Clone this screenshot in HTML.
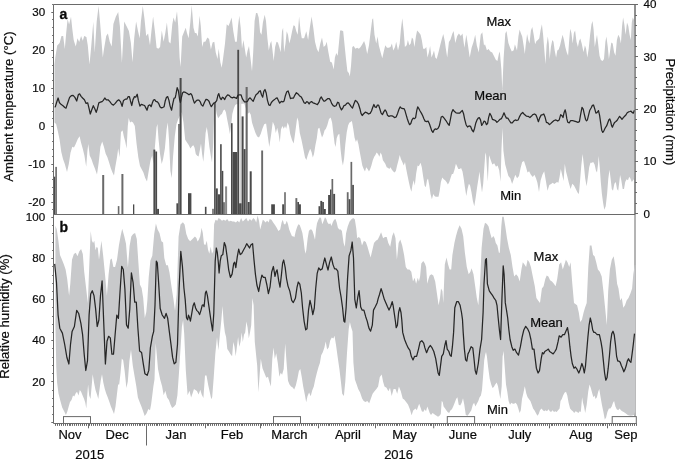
<!DOCTYPE html>
<html><head><meta charset="utf-8"><style>
html,body{margin:0;padding:0;background:#fff;width:675px;height:460px;overflow:hidden}
svg{display:block;will-change:transform}
text{font-family:"Liberation Sans",sans-serif}
</style></head><body>
<svg width="675" height="460" viewBox="0 0 675 460"><rect width="675" height="460" fill="#fff"/><line x1="635.0" y1="4.5" x2="635.0" y2="423.5" stroke="#6a6a6a" stroke-width="1"/><polygon points="54.5,64.6 55.3,57.4 57.2,45.5 59.6,43 61.5,35.9 63.2,35.9 64.8,49 66.2,33 67.6,19 69.1,24.5 71,16.8 72.3,29 73.7,40 74.6,43 75.8,46.6 77.5,38.3 79.2,41.9 81.1,35.9 82.8,40.7 84.2,35.9 86.4,37 87.8,45.5 89.5,64.6 91.1,47.8 93.3,21.7 94.7,52.6 96.7,21.5 98.6,6 100.2,23.9 102.8,57.5 103.8,50.2 106.2,35.9 107.9,33.5 109.8,41.9 111.7,46.6 113.4,23.9 115.8,16.7 118.2,12 119.9,26.3 121.9,63 124.2,21.5 126.6,26.3 128.9,31.1 130.9,43 132.5,62.2 134.2,38.3 136.1,21.5 138,31.1 139.7,38.3 140.9,21.5 142.8,6 144.5,19.1 146.2,35.9 148.1,33.5 150,45.2 151.4,31.3 153.1,16.5 154.9,31.3 156.6,47.8 158.3,48.7 160.1,47 161.8,30.4 163.6,41.7 165.3,33 166.9,22.6 168.8,41.7 170.5,43.5 172.3,24.3 173.5,17.4 175.2,22.6 177,11.3 178.2,26.1 179.6,57.4 180.6,67 182.2,36.5 183.9,32.2 185.7,27.8 187,33 188.6,38.3 190.3,22.6 191.7,5.2 193.5,27.8 194.9,33 196.3,33 197.8,36.5 199.6,15.7 200.8,26.1 202.2,47 203.6,41.7 205.3,41.7 207.4,37.4 209.1,39.1 210.9,49.6 212.6,42.6 214.3,41.7 215.7,52.2 217.5,59.1 218.7,48.7 220.4,62.6 221.7,67.8 223,59.1 225,43.5 226.7,24.3 228.5,26.1 229.9,22.6 231.6,17.4 233.3,31.3 235.1,41.7 236.8,41.7 238,26.1 239.3,15.7 240.7,27.8 242,48.7 243.4,40 244.8,48.7 246.2,57.4 247.6,50.4 249,46.1 250.4,57.4 252,71.3 253.2,52.2 254.6,20.9 256,13 257.3,13 258.7,17.4 260.1,32.2 261.5,34.8 262.9,22.6 264.7,14.8 266,20.9 267.4,38.3 268.8,50.4 270.2,43.5 271.3,40.9 272.3,48.7 273.7,60.9 275.1,47 276.5,41.7 277.9,42.6 279.3,47 280.7,52.2 282,31.3 283.1,27.8 284.1,52.2 285.5,43.5 286.7,31.3 288,34.8 289.3,43.5 290.7,38.3 292.1,31.3 293.5,25.2 294.9,26.1 296.3,31.3 297.7,34.8 299.1,16.5 300.6,31.3 301.8,38.3 304.1,38.3 306.3,31.3 308.1,40 309.8,27.8 311.6,16.5 313.3,27.8 315,41.7 316.8,48.7 318.5,52.2 320.3,43.5 322,37.4 323.7,47 325.5,45.2 326.7,41.7 328.4,52.2 330.2,61.7 331.9,62.6 333.7,69.6 334.9,57.4 336.3,53 337.7,55.7 338.9,43.5 340.1,30.4 341.8,30.4 343.2,31.3 344.6,45.2 346,59.1 347.4,71.3 348.8,73 349.8,76.5 351,66.1 352.3,47 353.7,46.1 355.4,48.7 357.1,47.8 358.9,48.7 360.6,47 362.3,44.3 364.1,40.9 365.5,45.2 367.2,53.9 369,45.2 370.7,31.3 372.2,19.5 373.1,18.3 374.5,34.8 376.2,43.5 377.6,36.5 378.8,45.2 380.6,52.2 382.3,58.3 384,50.4 385.3,45.2 387,47.8 388.7,47.8 390.5,47 391.9,43.5 393.3,50.4 395,47 396.2,41.7 398,50.4 399.7,43.5 400.9,29.6 402.3,18.3 403.7,31.3 404.9,47 406.7,45.2 407.9,40 409.3,45.2 410.7,43.5 411.9,37.4 413.1,39.1 414.5,47 415.9,36.5 417.1,30.4 418.8,32.2 420.6,34.8 421.8,40 423.2,48.7 424.9,48.7 426.3,47 427.5,57.4 428.9,52.2 430.1,46.1 431.5,57.4 432.9,53.9 434,50.4 435.3,57.4 436.7,59.1 438.5,52.2 440.2,45.2 442,38.3 443.3,33.9 444.9,41.7 445.7,47.8 447.2,57.4 448.9,41.9 450.5,39.5 452.4,33.5 453.6,31.1 455.3,43 457.2,35.9 458.9,33.5 460.8,35.9 462.5,33.5 464.4,47.8 466.3,34.7 468,45.5 469.7,57.4 471.6,47.8 473.5,41.9 475.2,34.7 476.8,45.5 478.8,52.6 480.7,34.7 482.3,32.3 484,45.5 485,44.3 486.9,50.2 488.6,49 490.3,51.4 492.2,52.6 494.1,56.2 495.8,59.8 497.4,61 498.9,53.8 499.8,51.4 501.4,69.4 502.3,90 503.6,58.5 505.3,33.5 506.5,31.1 508.4,43 510.1,47.8 511.8,51.4 513.7,50.2 514.9,44.3 517,50.4 518.4,36.5 519.6,29.6 520.8,33 522.2,36.5 523.6,45.2 524.8,53.9 525.7,45.2 527.1,33.9 528.3,40 529.5,43.5 530.9,30.4 532.3,27 533.7,34.8 535.1,44.3 536.5,40.9 537.9,40 539.3,38.3 540.5,30.4 541.9,24.3 543.1,34.8 544.5,52.2 545.5,64.3 546.6,45.2 547.8,36.5 548.8,43.5 549.7,59.1 550.9,47 552.3,40 553.5,41.7 554.7,50.4 556.1,57.4 557.3,50.4 558.7,49.6 560.1,45.2 561.3,40 562.6,34.8 564,40 565.3,47 566.7,52.2 568.1,55.7 569.2,40 570.2,28.7 571.4,33 572.7,43.5 573.9,33 575.1,30.4 576.5,41.7 577.9,47 579.1,40.9 580.3,38.5 581.7,43.5 583.5,52.2 584.9,45.2 586.1,48.7 587.3,57.4 588.7,48.7 590.1,34.8 591.5,24.3 592.5,20.9 593.6,29.6 594.8,47 596,40 597,34.8 598.3,45.2 599.5,55.7 600.9,60 602.6,60.9 604,59.1 605.4,41.7 606.4,36.5 607.8,47 608.9,59.1 609.9,52.2 611.3,42.6 612.7,43.5 614.1,52.2 615.5,55.7 616.9,40 618.3,34.8 619.7,37.4 620.9,43.5 622.1,26.1 623.1,17.4 624.3,24.3 625.6,34.8 627,22.6 628.3,26.1 629.6,34.8 630.8,40 631.8,22.6 632.7,17.4 633.6,19.1 634.5,21.5 634.8,21.5 634.8,178.2 634.5,178.2 633.2,180.2 631.8,182 630.4,178.5 629.2,176.7 628,180.2 626.6,179.3 625.2,182 624,188.9 622.7,188.9 621.3,180.2 620.1,175 619.3,182 618.2,190.7 617,188.9 615.8,182 614.4,183.7 613,190.7 611.8,188.9 610.6,178.5 609.5,169.8 608.3,178.5 607.1,194.1 605.7,206.3 604.3,209.8 603.1,202.8 601.9,194.1 600.8,182 599.8,168 598.7,155.9 598,164.6 597,172.4 596,170.7 594.6,164.6 593.2,162 591.8,162.8 590.4,162.8 589.2,167.2 588,176.7 586.6,186.3 585.2,178.5 584,166.3 582.6,154.1 581.3,165.4 580.1,180.2 578.9,194.1 577.5,192.4 575.8,188.9 574,185.4 572.3,183.7 570.6,188.9 568.8,182.8 567.4,176.7 566,171.5 564.8,163.7 563.6,181.1 562.2,175 560.8,168.9 559.6,176.7 558.4,182.8 557,182 554.3,184 552.7,182.8 551.1,184 549.3,185.1 547.5,190.8 545.8,180.5 544.2,171.3 542.4,174.8 540.6,180.5 539,192 537.4,182.8 536,178.2 534.4,174.8 532.8,177.1 530.9,174.8 529.1,171.3 527.5,172.5 525.9,166.7 524,161 522.2,162.1 520.6,167.9 519,175.9 517.1,178.2 515.3,174.8 513.7,179.4 512.1,184 510.3,178.2 508.4,175.9 506.8,170.2 505.2,164.4 503.4,150.7 502.5,128 501.5,148.4 500.6,181.7 499.2,170.2 497.6,165.6 496,166.7 494.2,163.3 492.3,164.4 490.7,159.9 489.1,155.3 487.8,181.7 486.1,155.3 485.4,152.4 484.4,166.3 483.2,183.7 482,192.4 480.6,182 479.5,171.5 478.5,178.5 477.1,187.2 475.7,197.6 474.3,206.3 472.9,201.1 471.5,192.4 470.1,185.4 468.9,183.7 467.5,188.9 466.3,195.9 464.9,187.2 463.7,178.5 462.5,171.5 461.1,168 459.7,168.9 458.3,168.9 457.1,166.3 455.9,163.7 454.5,169.8 453.1,174.1 451.9,174.1 450.7,177.6 449.3,182 447.9,184.6 446.5,182 445.1,180.2 443.7,179.3 442.3,177.6 440.9,182 439.7,190.7 438.5,196.7 437.1,196.7 435.7,196.7 434.5,195.9 433.3,194.1 431.9,199.3 430.5,194.1 429.3,185.4 428,178.5 427,180.2 425.8,187.2 424.6,185.4 423.2,176.7 421.8,167.2 420.6,162.8 418.8,166.3 417.6,165.4 416.2,173.3 414.8,185.4 413.6,180.2 412.4,185.4 411.4,191.8 410.2,188 409,182.8 407.6,175.9 406.2,168.9 405,162 403.7,165.4 402.3,162 401,159.3 399.7,155 398.5,160.2 397.1,165.4 395.9,170.7 394.7,172.4 393.3,171.5 391.9,169.8 390.5,167.2 389.3,168.9 388.1,168 386.7,167.2 385.3,163.7 384.1,162 382.9,160.2 381.8,155 380.6,152.4 379.4,156.7 378,154.1 376.6,152.4 375.4,155 374.2,156.7 372.8,160.2 371.4,165.4 370.2,168.9 369,171.5 367.6,168.9 366.2,167.2 365,171.5 363.7,168.9 362.3,165.4 361,158.5 359.7,151.5 358.5,144.6 357.1,139.3 355.9,142 354.5,137.6 353.3,128.9 351.9,121.1 350.5,122 349.3,122.8 348.1,125.4 346.7,132.4 345.3,144.6 344.1,158.5 342.9,165.4 341.8,160.2 340.6,149.8 339.4,134.1 338,134.8 336.7,138.3 335.6,147 334.6,143.5 333.3,133 332.1,122.6 330.7,117.4 329,119.1 327.3,125.2 325.9,128.7 324.5,130.4 323.3,134.8 322,137.4 320.7,133 319.4,127.8 318,128.7 316.8,138.3 315.4,145.2 314,153.9 312.8,157.4 311.6,152.2 310.2,148.7 308.8,152.2 307.6,155.7 306.4,160 305,157.4 303.3,148.7 301.5,140 299.8,133 298.4,120.9 297.2,117.4 295.4,131.3 293.7,143.5 292,140 290.2,133.9 289,126.1 287.6,122.6 286.2,128.7 285,126.1 283.8,128.7 282.4,126.1 281,129.6 279.8,142.6 278.6,133.9 277.2,127.8 275.8,133 274.6,126.1 272.8,121.7 271.1,134.8 269.3,147 267.6,134.8 266.1,123.4 264.2,124.3 262.4,128.7 260.7,133.9 259,137.4 257.2,136.5 255.5,133 253.7,127.8 252,122.6 250.8,114.8 249.4,112.2 247.7,113.9 244.2,103.5 240,104 236.3,104.3 235.1,105.2 233.7,108.7 232.3,113.9 231.1,126.1 229.9,133.9 228.5,126.1 227.1,119.1 225.9,112.2 224.7,109.6 223.3,110.4 221.9,113.9 220.7,114.8 219.5,116.5 218.1,118.3 216.7,113.9 215.5,107 214.3,110.4 213.2,143.5 212,162.6 210.8,155.7 209.4,147 208,134.8 206.8,127 205.6,133 204.5,148.7 203.3,161.7 202.1,153.9 201,143.5 199.8,150.4 198.6,156.5 197.2,155.7 195.8,153.9 194.6,147.8 193.4,145.2 192.2,146.1 190.4,148.5 188.7,145 187,142.4 185.2,139.8 183.5,122.4 181.7,112 180,115.4 178.3,118.9 176.5,124.1 174.8,136.3 173,157.2 171.8,178 170.4,171.1 169,139.8 167.8,122.4 166.6,129.3 164.9,148.5 163.1,158.9 161.7,164.1 160,153.7 158.6,139.8 157.4,124.1 156.5,127.6 154.8,148.5 153.4,164.1 152.2,155.4 150.4,160.7 148.7,171.1 147,181.5 145.2,178 143.5,172.8 141.7,169.3 140,165.9 138.3,157.2 136.5,143.3 134.8,125.9 133,122.4 131.5,121.5 130.1,122.4 128.7,118 127.8,125.9 126.6,148.5 125.2,141.5 123.8,136.3 122.6,130.2 121.9,131.5 121,131.5 119.6,157.2 118.2,148.5 117,157.2 115.2,167.6 114,175.4 112.6,172.8 110.9,168.5 109.1,162.4 107.4,157.2 105.7,153.7 103.9,146.7 102.2,141.5 100.4,146.7 98.7,162.4 97,174.6 94.9,168.5 93.1,164.1 91.4,158.9 89.7,155.4 88.3,144.1 87.4,151.1 86.2,166.7 84.4,155.4 82.7,148.5 81,142.4 79.6,136.3 77.8,138.9 75.7,144.1 74,147.6 72.3,146.7 70.5,152.8 68.8,164.1 67,172 64.8,164.1 63,158.9 61.3,152 59.6,139.8 57.8,131.1 56.1,124.1 54.5,122.4 54.5,122.4" fill="#c8c9cb"/><polygon points="55.4,225.8 56.7,229 58.4,240.7 60,255.1 62,259.8 63.9,264.6 65.6,269.4 67.2,279 69.1,295.7 70.3,283.8 72,259.8 73.9,253.9 75.8,252.7 77.5,256.3 79.2,251.5 81.1,249.1 82.8,253.9 84.2,271.8 85.9,286.2 87.8,302.9 89.5,259.8 90.7,231.1 91.9,240.7 93.1,243.1 94.3,240.7 95.5,250.3 96.7,246.7 97.8,247.9 99,259.8 100.2,250.3 101.4,240.7 103.1,255.1 105,274.2 106.9,295.7 108.6,274.2 110.3,259.8 111.7,258.6 113.4,267 115.1,267 117,259.8 118.9,245.5 120.6,235.9 122.2,228.7 124.2,235.9 126,243.7 127.9,267.6 129.6,246.1 131.3,236.5 133.2,234.1 135.1,232.9 136.8,238.9 138.4,262.8 139.9,284.4 141.6,288 143.2,298 144.8,318 146.3,312 147.4,300 148.7,277.2 150.4,260.5 152.3,255.7 154.2,234.1 155.9,223.4 157.6,229.4 159.5,232.9 161.4,241.3 163.1,242.5 164.3,258.1 166.2,265.2 167.9,265.2 169.5,272.4 171.5,286.8 173.4,298.7 175,310.7 176.7,294 178.6,236.5 180.5,224.6 182.9,222.2 184.6,224.6 186.3,234.1 188.2,238.9 190.1,241.3 192.5,238.9 194.9,236.5 196.4,238.1 197.6,241.6 198.8,239.8 200.2,236.3 201.6,227.7 202.8,232.9 204,244.2 205.4,245 206.8,240.7 208,249.4 209.3,253.7 210.7,246.8 212,253.7 213.3,251.1 214.1,224.2 215.5,219.8 217.3,220.7 218.5,218.1 220.2,219 222,220.7 223.7,219.8 225.4,220.7 227.2,219 228.9,221.6 230.7,220.7 232.4,221.6 234.1,221.6 235.9,222.4 237.6,220.7 239.3,222.4 241.1,218.1 242.8,221.6 244.6,219.8 246.3,218.1 248,221.6 249.8,219 251.5,220.7 253.3,218.1 255,219.8 256.2,222.4 257.6,215.5 259,220.7 260.2,229.4 261.4,225 262.8,219.8 264.2,220.7 265.4,222.4 267.2,220.7 268.6,222.4 269.7,219 271.5,219.8 273.2,222.4 275,225 276.7,227.7 278.4,231.1 280.2,229.4 281.6,222.4 282.8,219.8 284,224.2 285.4,224.2 286.8,220.7 288,224.2 289.2,229.4 290.6,232.9 292,236.3 293.2,236.3 294.4,237.2 295.8,231.1 297.2,226.8 298.4,224.2 299.7,225 301,228.5 302.4,232.9 303.7,241.6 304.5,248.5 305.4,253.7 306.3,250.3 307.7,238.1 308.9,231.1 310.1,229.4 311.5,229.4 312.5,231.1 313.6,234.6 315,239.8 316,229.4 317,223.3 318.4,219.8 319.8,217.2 321,218.1 322.3,224.2 323.7,220.7 325,217.2 326.3,219 327.5,222.4 328.9,224.2 330.3,223.3 331.5,225.9 332.7,222.4 334.1,219.8 335.5,219 336.7,222.4 337.9,227.7 339.3,229.4 340.7,229.4 341.9,231.1 343.6,243.1 344.8,246.7 346,233.5 347.7,226.4 349.6,221.6 351.5,219.2 353.2,218 354.8,219.2 356.3,228.7 357.2,238.3 358.7,237.1 360.3,238.3 362,245.5 363.9,240.7 365.8,241.9 367.5,246.7 369.2,252.7 370.6,257.5 372.3,250.3 374,243.1 375.9,240.7 377.8,239.5 379.5,235.9 381.1,232.3 383.1,238.3 385,237.1 386.7,237.1 388.3,243.1 390.2,246.7 392.2,235.9 393.8,232.3 395.5,238.3 396.9,259.8 398.6,243.1 400.3,239.5 402.2,245.5 404.1,255.1 405.8,267 407.5,269.4 409.4,269.4 411.3,271.8 413,281.4 414.6,277.8 416.1,283.8 417.8,277.8 418.9,281.4 420.1,276.6 421.3,263.4 423.3,261 424.9,263.4 426.1,267 427.3,283.8 428.5,279 429.7,275.4 431.4,274.2 433.3,275.4 435.2,281.4 436.9,293.3 438.6,305.3 440,298.1 441,288.6 442.4,291 443.3,302.9 444.8,264.6 446.5,257.5 448.1,264.6 449.6,269.4 451.2,269.4 452.4,255.1 454.4,243.1 456,235.9 457.7,229.9 459.6,225.2 461.5,228.7 463.2,235.9 464.9,252.7 466.8,267 468.7,274.2 470.4,271.8 471.6,268.2 473.5,274.2 475.2,286.2 476.8,298.1 478.3,305.3 480,283.8 481.6,247.9 483.5,228.7 485,222.8 486.9,224 488.6,226.4 490.3,233.5 491.7,238.3 493.4,235.9 494.6,238.3 495.8,243.1 497.4,245.5 498.9,252.7 499.8,252.7 501.3,226.4 502.2,216.8 503.7,216.8 505.3,226.4 507,238.3 508.9,247.9 510.8,255.1 512.5,267 514.2,276.6 516.1,274.2 518,276.6 519.7,281.4 521.4,269.4 522.8,262.2 524.5,264.6 526.1,267 527.6,259.8 529.3,262.2 530.9,267 532.8,276.6 534.8,286.2 536.4,298.1 538.1,300.5 540,302.9 541.9,288.6 543.6,286.2 545.3,279 546.7,275.4 548.4,276.6 550.1,280.2 552,281.4 553.9,283.8 555.6,286.2 557.2,279 559.2,264.6 561.1,262.2 562.8,269.4 564.4,264.6 565.9,259.8 567.5,262.2 569.2,267 570.6,262.2 572.3,283.8 574,302.9 575.4,304.1 577.1,305.3 578.8,312.5 580.2,322 581.9,319.7 583.6,312.5 585,307.7 586.7,302.9 588.3,267 589.8,245.5 591.5,245.5 593.1,255.1 594.6,256.3 596.2,262.2 597.9,269.4 599.8,271.8 601.7,276.6 603.4,290.9 605.1,307.7 606.8,325 608.2,290.9 609.9,269.4 611.8,259.8 613.7,256.3 615.4,267 617.1,283.8 618.5,288.6 620.2,300.5 621.8,298.1 623.3,307.7 625,305.3 626.6,300.5 628.5,298.1 630.5,293.3 632.1,288.6 633.3,274.2 634.8,265 635.3,265 635.3,412.5 634.8,412.5 633.9,414.9 632.2,415.4 630.7,415.8 629.2,415.4 627.8,414.9 626.5,413.9 625.2,413 623.7,412.1 622.2,411.2 620.9,410.2 619.6,408.4 618.2,410.2 616.7,409.3 615.4,406.5 614.1,401 613,402.8 611.7,406.5 610.4,408.4 608.9,408.4 607.4,412.1 606.1,417.6 604.8,419.5 603.4,412.1 601.9,404.7 600.6,397.3 599.3,389 598.2,391.8 596.9,397.3 595.6,399.1 594.5,395.5 593.4,397.3 592.3,393.6 590.8,388.1 589.5,384.4 588.2,391.8 586.7,404.7 585.2,413 584,406.5 583,402.8 582.1,397.3 580.8,412.1 579.7,411.2 578.4,413 577.1,412.1 575.6,411.2 574.2,413 572.9,411.2 571.6,410.2 570.1,408.4 568.6,402.8 567.3,395.5 566,391.8 564.5,392.7 563.1,395.5 561.8,399.1 560.5,401 559.6,408.4 558.1,410.2 556.6,412.1 555.3,411.2 554,412.1 552.5,410.2 551.1,412.1 549.8,411.2 548.5,409.3 547,411.2 545.5,410.2 544.2,411.2 542.9,410.2 541.5,408.4 540,410.2 538.7,413.9 537.4,415.8 535.9,413 534.4,410.2 533.1,408.4 531.8,404.7 530.4,401 528.9,399.1 527.6,397.3 526.3,393.6 524.8,386.2 523.3,393.6 522,399.1 520.8,410.2 519.6,413 518.3,408.4 517.1,404.7 515.6,402.8 514.1,403.8 512.8,403.8 511.5,402.8 510,404.7 508.6,401 507.3,391.8 506,384.4 504.5,364 503.6,351.1 502.6,356.6 501.7,386.2 500.4,399.1 499.3,393.6 498,386.2 496.7,382.5 495.2,384.4 493.8,387.1 492.5,388.1 491.2,384.4 489.7,378.8 488.2,367.7 486.9,356.6 486,352 485.2,354.8 484.2,360.3 483.3,373.3 482,389.9 480.9,395.5 479.6,397.3 478.3,401 476.8,403.8 475.4,406.5 474.1,402.8 472.8,404.7 471.3,410.2 469.5,413 467.6,415.8 465.8,414.9 464.3,404.7 463,398.2 461.7,402.8 460.2,405.6 458.7,404.7 457.4,397.3 456.1,399.1 454.7,402.8 453.2,406.5 451.9,409.3 450.6,410.2 449.1,413 447.6,412.1 446.3,410.2 445.1,408.4 443.6,406.5 442.7,401.9 441.7,401 440.8,413.9 439.5,415.8 438,416.7 436.6,415.8 435.3,414.9 434,413.9 432.5,413 431,414.9 429.7,413 428.4,409.3 427.3,406.5 426,411.2 424.7,409.3 423.2,412.1 421.8,411.2 420.5,407.5 419.2,403.8 418.1,406.5 416.8,410.2 415.5,408.4 413.2,410.5 411.6,415.3 409.9,409.3 408,404.5 406.1,402.1 404.4,399.7 402.7,398.5 400.8,391.3 398.9,386.6 397.2,393.7 395.5,388.9 393.6,388.9 391.7,396.1 390,387.8 388.4,391.3 386.5,387.8 384.5,386.6 383.1,381.8 381.7,374.6 379.8,377 378.1,386.6 376.4,388.9 374.5,391.3 372.6,393.7 370.9,398.5 369.2,403.3 367.3,400.9 365.4,402.1 363.7,400.9 362.1,398.5 360.1,392.5 358.2,389 356.6,384.2 354.9,379.4 353.4,362.6 352.5,331.5 351,326.7 349.9,322 348.7,329.1 347,353.1 345.3,381.8 343.9,396.1 342.2,393.7 340.8,380.7 339.4,368.9 337.7,357.2 336.1,345.4 334.5,335.7 333.4,338.6 331.8,337.6 330.2,340.5 328.7,347.4 327.1,349.4 325.7,341.5 324.4,347.4 322.8,352.3 321.2,355.2 319.9,363.1 318.5,367 316.9,372.8 315.4,378.7 313.8,386.5 312.2,390.5 310.7,396.3 309.1,392.4 307.5,396.3 306.2,402.2 304.8,394.4 303.2,386.5 301.7,376.8 300.3,368.9 298.9,370.9 297.4,378.7 295.8,385.6 294.2,389.5 292.7,387.5 291.1,386.5 289.5,384.6 288,380.7 286.6,363.1 285.2,343.5 283.7,368.9 282.1,374.8 280.7,372.8 279.4,376.8 277.8,363.1 276.2,353.3 274.8,359.1 273.5,347.4 272.3,359.1 270.9,386.5 269.6,382.6 268,376.8 266.3,377.8 264.4,373 262.5,368.2 260.8,358.7 259.6,375.4 258.4,392.2 257.2,365.8 256,353.9 254.8,341.9 253.6,305 252.4,298 251.2,325.2 250,332.4 248.8,338.3 247.6,327.6 246.4,321.6 245.2,332.4 244,334.7 242.8,341.9 241.7,332.4 240.5,341.9 239.3,346.7 238.1,337.1 236.9,346.7 235.7,356.3 234.5,346.7 233.3,341.9 232.1,356.3 230.4,353.9 229,351.5 227.3,349.1 226.1,337.1 224.9,332.4 223.7,322.8 222.5,306 221.3,320.4 220.1,332.4 218.4,350.3 217,337.1 215.3,353.9 213.7,377.8 212.2,397 211.3,399.3 209.8,392.2 208.2,385 206.5,375.4 205,375.4 203.4,398.1 201.7,394.6 200.3,389.8 198.6,394.6 196.9,391 195,389.8 194,389 192.7,393.1 191.1,397.6 189.5,390.8 187.6,395.3 185.8,370.2 184.2,333.7 183.1,320 181.9,326.8 180.3,352 179,372.5 177.4,395.3 175.8,404.5 173.9,406.8 172.1,407.9 170.5,404.5 168.9,399.9 167.1,397.6 165.3,390.8 163.7,395.3 162.1,386.2 160.2,379.4 158,369.1 156.8,355 155.7,343 154.5,379.4 153.4,386.2 152.3,395.3 151.1,404.5 150,410.2 148.4,409 146.5,413.6 144.7,415.9 143.1,411.3 141.5,406.8 139.7,402.2 137.9,397.6 136.3,386.2 134.7,377.1 132.8,365.7 131,349.7 129.4,361.1 127.8,381.6 126.4,388 124.7,371.4 123.2,360.3 121.8,358.5 120.5,373.3 119.2,384.4 118.1,384.4 116.8,395.5 115.5,406.5 114,413.9 112.5,410.2 110.9,406.5 109.4,401.9 107.7,397.3 106.2,393.6 104.8,389 103.3,382.5 102,374.2 100.7,380.7 99.2,391.8 98.3,399.1 97,394.5 95.5,389.9 94,382.5 92.7,374.2 91.8,384.4 90.5,399.1 89.2,395.5 88.1,384.4 87.2,395.5 86.3,408.4 85.3,402.8 84.1,399.1 82.6,395.5 81.1,391.8 79.8,389.9 78.5,395.5 77,391.8 75.6,393.6 74.3,396.4 73,395.5 71.5,400.1 70,401.9 68.7,406.5 67.4,411.2 65.9,414.9 64.5,412.1 62.2,407.5 60.4,401 58.5,393.6 57.1,382.5 56.3,368 55.4,326 55.4,326" fill="#c8c9cb"/><rect x="53.3" y="176.7" width="2" height="37.8" fill="#4a4a4a"/><rect x="55.3" y="166.9" width="1.6" height="47.6" fill="#6a6a6a"/><rect x="102.2" y="175" width="2" height="39.5" fill="#6a6a6a"/><rect x="117.8" y="206.1" width="1.6" height="8.4" fill="#6a6a6a"/><rect x="121.4" y="174" width="2" height="40.5" fill="#6a6a6a"/><rect x="133" y="204.4" width="1.3" height="10.1" fill="#4a4a4a"/><rect x="153.4" y="149.6" width="1.9" height="64.9" fill="#4a4a4a"/><rect x="155.3" y="151.5" width="1.8" height="63" fill="#4a4a4a"/><rect x="157.1" y="208.9" width="1.9" height="5.6" fill="#4a4a4a"/><rect x="176.4" y="203.3" width="1.9" height="11.2" fill="#4a4a4a"/><rect x="178.3" y="124" width="1.3" height="90.5" fill="#4a4a4a"/><rect x="179.6" y="78" width="2" height="136.5" fill="#4a4a4a"/><rect x="188" y="193.2" width="3.4" height="21.3" fill="#4a4a4a"/><rect x="204.9" y="206.8" width="1.6" height="7.7" fill="#4a4a4a"/><rect x="212.2" y="208.8" width="1.6" height="5.7" fill="#6a6a6a"/><rect x="214.1" y="102.5" width="1.6" height="112" fill="#4a4a4a"/><rect x="215.8" y="188.4" width="2" height="26.1" fill="#4a4a4a"/><rect x="217.8" y="194.3" width="2.3" height="20.2" fill="#4a4a4a"/><rect x="220.1" y="144.2" width="1.6" height="70.3" fill="#4a4a4a"/><rect x="221.7" y="170.9" width="1.6" height="43.6" fill="#4a4a4a"/><rect x="223.3" y="202.2" width="1.4" height="12.3" fill="#4a4a4a"/><rect x="225.1" y="186.4" width="2" height="28.1" fill="#8a8a8a"/><rect x="231" y="123.2" width="1.6" height="91.3" fill="#4a4a4a"/><rect x="232.6" y="152" width="4.7" height="62.5" fill="#4a4a4a"/><rect x="237.3" y="49.8" width="1.8" height="164.7" fill="#4a4a4a"/><rect x="239.1" y="94" width="2.2" height="120.5" fill="#d6d6d6"/><rect x="239.1" y="203.3" width="2.5" height="11.2" fill="#4a4a4a"/><rect x="241.6" y="116.4" width="2" height="98.1" fill="#4a4a4a"/><rect x="243.6" y="149.1" width="2" height="65.4" fill="#4a4a4a"/><rect x="245.6" y="87" width="2.1" height="127.5" fill="#6a6a6a"/><rect x="247.7" y="202" width="2" height="12.5" fill="#4a4a4a"/><rect x="249.7" y="171.3" width="2" height="43.2" fill="#4a4a4a"/><rect x="261.2" y="150.5" width="1.9" height="64" fill="#6a6a6a"/><rect x="271.2" y="204.3" width="3.7" height="10.2" fill="#4a4a4a"/><rect x="282.2" y="204.3" width="2" height="10.2" fill="#4a4a4a"/><rect x="284.2" y="192.2" width="1.6" height="22.3" fill="#6a6a6a"/><rect x="295.4" y="198.1" width="1.9" height="16.4" fill="#6a6a6a"/><rect x="297.3" y="202" width="1.7" height="12.5" fill="#4a4a4a"/><rect x="299" y="204.3" width="1.9" height="10.2" fill="#4a4a4a"/><rect x="318.5" y="206.2" width="1.8" height="8.3" fill="#4a4a4a"/><rect x="320.3" y="200.9" width="1.9" height="13.6" fill="#4a4a4a"/><rect x="322.2" y="202" width="1.7" height="12.5" fill="#4a4a4a"/><rect x="323.9" y="209" width="1.9" height="5.5" fill="#4a4a4a"/><rect x="328.1" y="195" width="1.9" height="19.5" fill="#4a4a4a"/><rect x="330" y="189.5" width="1.5" height="25" fill="#4a4a4a"/><rect x="331.5" y="179" width="1.7" height="35.5" fill="#6a6a6a"/><rect x="333.2" y="193.9" width="1.9" height="20.6" fill="#4a4a4a"/><rect x="346.8" y="192.2" width="1.8" height="22.3" fill="#6a6a6a"/><rect x="348.6" y="199.2" width="1.9" height="15.3" fill="#4a4a4a"/><rect x="350.5" y="161.9" width="1.7" height="52.6" fill="#6a6a6a"/><rect x="352.2" y="184.9" width="1.7" height="29.6" fill="#4a4a4a"/><polyline points="54.6,106.9 55.3,106.9 56.5,102.8 58.1,98 59.5,102.8 61.3,104.6 63,105.7 64.8,107.5 66,108.1 67.8,102.8 69.6,97.4 71.3,95.7 73.1,95.4 74.9,97.4 76.7,101 78.4,94.5 79.6,93.9 81.1,96.3 82.6,98 84.4,99.8 86.1,103.4 87.7,102.8 89.1,108.7 90.3,114 91.5,110.5 93.3,105.7 94.8,108.7 96.2,112.3 97.4,108.7 98.8,102.8 100.4,102.2 102.1,101.6 103.3,100.4 104.8,98 106.3,99.8 108.1,99.8 109.9,101.6 111.6,104 113.4,105.1 115.2,103.4 117,101 118.7,99.8 120.5,101.6 122.1,106.3 123.5,100.4 125.3,99.2 126.8,99.2 128.2,96.6 129.4,96.6 130.4,100.7 131.8,105.5 133,99.6 134.5,96.6 135.7,97.2 137.2,94.2 138.4,100.7 139.9,106.1 141.3,104.3 142.8,104.9 144.6,105.5 145.8,107.9 147,110.2 148.4,105.5 149.9,104.9 151.1,106.7 152.3,103.1 153.5,100.1 154.7,99.6 155.9,101.3 157.4,101.9 158.8,103.7 160,106.7 161.2,107.9 163,107.3 164.1,106.7 165.3,100.7 166.5,97.2 167.7,96.6 168.9,100.1 170.1,106.1 171.6,110.2 172.8,103.7 174,98.4 175.2,97.8 176,94.2 177.2,87.7 178.4,90.7 179.6,99.6 180.4,102.5 181.3,97.8 182.5,93 183.7,91.9 185.5,92.4 187.3,93.6 189,94.8 190.8,93.6 192,95.4 193.2,99.6 194.4,103.1 195.8,101.3 197.3,100.1 198.9,100.1 200.3,101.9 201.5,104.9 202.9,106.1 204.4,102.5 206,99.3 207.4,99.6 209,101.3 210.1,104.3 211.3,106.7 212.5,104.9 213.7,103.1 215.2,102.5 216.7,100.7 217.9,95.4 218.8,93.6 220,97.8 221.2,99.6 222.4,97.2 223.5,97.8 224.7,99.6 226.1,96.6 227.6,94.8 229.1,95.4 230.7,97.2 232.3,97.8 233.9,97.2 235.4,97.8 236.6,98.4 237.8,95.4 239.2,94.8 241,94.8 242.4,98.9 244.5,101.9 246.3,101.9 247.5,101.3 248.7,99 250.1,97.8 251.6,99.6 253.2,101.3 254.6,97.8 256,94.8 257.6,93.6 259.1,91.3 260.3,90.7 261.5,94.8 262.7,97.2 263.8,91.3 265,89.5 266.2,93 267.4,100.1 268.8,104.9 270,105.5 271.4,102.5 273,100.7 274.5,99.6 275.9,98.4 277.1,97.8 278.5,100.7 279.7,103.1 281.3,101.3 282.8,101.9 284.1,100.9 285.2,96.3 286.6,92.1 288.1,90.9 289.3,94.5 290.5,98.6 292.1,98 293.5,98 294.9,95.1 296.4,92.7 298,93.9 299.4,95.7 301.2,96.9 302.7,99.8 304.1,102.8 305.3,103.4 306.8,101.6 307.9,102.2 309.1,104 310.3,102.2 311.5,101.6 313,102.8 314.6,103.4 316,104 317.4,104.6 319,102.2 320.1,98.6 321.3,96.9 322.5,99.2 323.7,101 324.9,101 326.4,99.8 327.9,98.6 329.3,98.6 330.5,100.4 331.6,103.4 333.2,105.7 334.7,106.3 336.1,105.7 337.6,102.2 338.8,102.8 339.9,106.9 341.5,109.9 342.7,108.1 343.9,105.7 345.4,105.1 346.8,103.4 348.2,102.8 349.8,104.6 351,106.3 352.5,108.1 353.9,104 355.3,100.4 356.9,101.6 358.4,104 359.9,108.7 361,113.4 362.2,115.5 363.4,114 365.3,112.2 367,112.8 368.5,114 370.1,113.4 371.5,111 372.7,107.5 373.9,104.5 375,106.9 376.2,107.5 377.4,105.1 378.6,105.1 379.8,108.7 381,112.8 382.4,114.6 383.9,111.6 385.1,109.9 386.3,111.6 387.5,115.2 389,116.4 390.4,115.8 391.9,115.8 393.1,116.4 394.6,117.6 396.1,117 397.6,113.4 399,109.3 400.2,106.9 401.3,108.1 402.9,108.7 404.1,108.7 404.9,110.4 406.1,114.6 407.3,118.7 408.5,122.3 409.6,124.7 410.8,123.5 412,119.9 413.2,118.1 414.4,118.7 415.6,117.6 416.8,110.4 417.7,106.9 418.9,108.7 420.1,111 421.5,113.4 422.7,115.8 423.9,118.7 425.1,121.1 426.6,121.7 428.1,121.1 429.3,123.5 430.5,127 431.7,130.6 432.9,132.4 434.1,130 435.2,128.8 436.7,129.4 438.1,128.2 439.3,125.9 440.2,122 441.2,117 442.6,116.4 444.1,118.1 445.9,120.5 447.7,123.5 449.2,125.3 450.4,119.3 451.6,112.8 453,109.6 454.5,111.6 456,112.8 457.8,113.2 459.6,113.2 461.1,111.6 462.3,110.4 463.5,113.4 464.7,119.3 466.1,124.7 467.5,127 469,125.9 470.6,126.4 472,130 473.4,131.8 474.6,128.2 475.8,122.9 477,119.9 478.2,118.1 479.3,117.6 480.5,119.9 481.7,125.3 482.9,123.5 484.1,121.1 485.3,121.7 486.5,124.7 487.6,123.5 488.6,117.6 489.8,113.4 491.2,115.8 492.4,119.3 493.9,119.9 495.5,120.5 496.9,122.3 498.3,121.1 499.9,119.3 501.4,118.7 502.8,115.8 504,112.8 505.2,115.8 506.4,118.1 507.8,118.1 509.3,120.5 510.9,122.9 512.3,122.9 513.7,121.1 515.3,119.9 516.8,120.5 518.1,120 519.4,116.9 521,114 522.7,112.5 524.5,114.6 526.3,116.1 528.1,116.3 529.9,117.5 531.3,116.3 532.8,114.6 534.6,114 536,115.1 537.2,118.1 538.4,121.7 539.6,118.1 541.1,115.1 542.7,114.6 543.8,114 545,116.9 546.4,122.3 547.9,122.9 549.4,124.6 550.9,123.4 552.6,121.7 554.1,120.5 555.9,119.9 557.7,121.1 559.2,119.9 560.7,114.6 561.9,115.7 563,117.5 564.2,112.2 565.2,109.8 566,113.4 566.8,118.7 567.8,122.3 569.2,122.9 570.7,120.5 572.5,120.5 574.3,121.1 576.1,121.7 577.9,122.3 579.4,121.7 580.6,114.6 582,107.4 583.2,109.2 584.4,114.6 585.6,119.5 586.5,120.8 587.4,119.8 588.5,115.4 589.8,110.2 591.1,108 592.4,105.4 593.5,105 594.6,108.4 595.9,113.2 597.2,112.4 598.5,110.6 599.6,115.4 600.7,123.2 601.7,130.2 602.8,132.4 604,130.6 605.2,128 606.6,125.9 607.8,122.8 608.9,119.8 609.8,118.9 610.7,121.5 611.5,125.4 612.4,127.2 613.3,125 614.6,122.4 615.9,121.5 617.2,120.2 618.5,118 619.6,116.3 620.7,117.6 622,119.3 623.3,117.6 624.6,116.3 625.9,115 627.2,112.8 628.5,111.9 629.8,111.5 631,111.1 632,112.4 633.3,113.2 634.4,110.2" fill="none" stroke="#262626" stroke-width="1.25" stroke-linejoin="round"/><polyline points="54.7,263.9 56.5,282.6 58.1,315.1 59.8,328.2 62.4,333.1 64.7,344.5 66.9,357.5 68.9,364 70.5,344.5 72.1,331.4 74.4,326.5 76.7,310.3 78.7,313.5 80.9,323.3 82.6,334.7 84.2,354.2 85.8,370.5 87.5,360.7 89.1,315.1 90.7,294 92.3,290.7 94,295.6 95.6,308.6 97.2,326.5 98.9,320 100.5,295.6 102.1,280.9 103.7,321.7 105.4,364 107,341.2 108.6,336.3 110.3,337.9 111.9,354.2 113.5,354.2 115.1,334.7 116.8,315.1 118.4,318.4 120,292.3 121.7,266.3 123.3,269.5 124.9,289.1 126.5,324.9 128.2,328.2 129.8,308.6 131.4,272.8 133.1,282.6 134.7,302.1 136.3,302.1 137.9,328.2 139.6,351 141.6,352.5 143.3,363.9 144.9,373.7 147.2,375.3 148.8,370.4 150.4,347.6 152.4,336.2 153.7,331.3 155,305.2 156.3,261.2 157.3,262.8 158.6,282.4 160.2,308.5 162.2,315 164.5,318.3 166.1,313.4 167.7,318.3 169.3,331.3 171,344.3 172.6,357.4 174.2,363.9 175.9,362.3 177.5,344.3 179.1,288.9 180.8,251.4 182.4,266.1 183.9,287.8 185.2,299.6 186.5,317.8 187.6,319.8 188.5,315.2 189.4,317.2 190.4,321.1 191.7,313.9 193,306.1 194.3,302.8 195.6,308 196.9,310.6 198.3,311.9 199.6,314.6 200.9,310.6 202.2,305.4 203.2,304.8 204.1,306.7 205.4,293 206.3,291.1 207.4,295.6 208.7,304.8 210,313.9 211.3,323 212.6,330.8 213.8,313.1 215.2,261.1 216.3,248 217.3,252.4 218.4,263.3 219.1,273 220.2,261.1 221.3,255.7 222.8,254.6 224.3,242.6 225.6,245.9 227.1,256.7 228.7,269.8 230.4,277.4 232.1,274.1 233.7,263.3 234.7,262.2 235.8,267.6 237.3,256.7 238.7,249.1 240.2,254.6 241.7,253.5 243.4,250.2 245.2,247 246.7,243.7 248.2,245.9 249.5,248 251,244.8 252.6,243.7 253.9,258.9 255.4,274.1 256.9,285 258.7,291.5 260.4,281.7 261.9,275.2 263.4,277.4 265.2,277.4 266.9,285 268.4,293.7 270,287.2 271.7,272 273.4,266.5 275,276.3 276,272 277.1,269.8 278.7,280.7 280,287.2 281.5,274.1 282.6,263.3 283.7,260 285.2,267.6 286.5,278.5 288,286.1 289.8,291.1 291.7,300.4 293.3,302.6 295.4,298.3 297,287.4 298.3,282 299.8,284.1 301.3,292.8 302.6,308 304.1,321.1 305.7,329.8 307,328.7 308.5,310.2 310,300.4 311.3,305.9 312.8,314.6 314.3,308 315.7,288.5 317.2,273.3 318.7,267.8 320.4,270 322.2,268.9 323.7,262.4 324.8,258 326.5,264.6 328,270 329.6,262.4 331.3,257 333,264.6 334.6,268.9 336.1,268.9 337.8,271.1 339.6,288.5 341.1,297.2 342.6,308 343.9,321.1 344.8,322.2 346.1,308 347.6,277.6 349.1,255.9 350.9,250.4 352.2,242 353.5,258 354.8,299.3 356.3,308 357.8,297.2 359.1,290.7 360.7,307 362.2,310.2 363.9,310.2 365.7,316.7 367.2,321.1 368.4,326 369.2,328.8 370.6,331.2 372.3,325.2 373.5,310.1 375.4,306.5 377.1,302.9 378.3,298.1 379.5,294.5 381.1,288.6 382.6,293.3 384.3,299.3 385.9,302.9 387.4,306.5 389,310.1 390.7,306.5 392.2,301.7 393.1,305.3 394.5,314.9 395.5,322 396.2,327.6 397.4,325.2 398.6,312.5 399.8,307.7 401,312.5 401.8,320 402.7,332.4 404.6,339.5 406.5,344.3 408.2,347.9 409.9,350.3 411.3,356.3 413,359.9 414.6,356.3 416.6,356.3 418.5,349.1 420.1,341.9 421.8,340.7 423.7,343.1 424.9,347.9 426.6,352.7 428.5,347.9 430.4,345.5 432.1,347.9 433.8,351.5 435.7,358.7 436.9,365.8 438.1,373 439.3,375.4 440.5,365.8 441.7,356.3 443.3,353.9 444.8,345.5 446,340.7 447.2,349.1 448.9,351.5 450,355.1 451.2,356.3 452.4,346.7 453.6,332.4 454.8,307.7 456.7,301.7 458.4,301.7 460.1,305.3 461.5,312.5 462.5,319.7 463.2,332.4 464.4,349.1 465.6,359.9 466.8,361.1 468,353.9 469.2,351.5 471.1,346.7 472.8,347.9 474,358.7 475.2,370.6 476.4,374.2 478.3,363.5 480,349.1 481.6,339.5 483.1,312.5 484,283.8 485.5,259.8 486.4,258.6 487.4,283.8 489.3,290.9 491,293.3 492.7,295.7 494.1,298.1 495.8,300.5 497,305.3 498.2,318 499.4,330 500.6,339.5 501.9,299.7 503.2,265.8 504.1,274.2 505.3,302.9 506.5,310.1 507.7,318 508.9,330 510.1,339.5 511.8,346.7 513.2,350.3 514.9,349.1 516.6,352.7 518.5,355.1 520.4,346.7 522.1,337.1 523.8,330 525.7,326.4 527.6,328.8 529.3,332.4 530.9,339.5 532.4,349.1 534,349.1 535.2,358.7 536.4,368.2 538.1,373 539.5,370.6 541.2,358.7 542.4,352.7 543.6,353.9 544.8,351.5 546.7,350.3 548.4,349.1 549.6,351.5 551.5,352.7 553.2,353.9 554.9,351.5 556.3,349.1 558,341.9 559.2,335.9 561.1,337.1 562.8,334.7 564.4,334.7 565.9,331.2 567.5,327.6 568.7,334.7 569.9,346.7 571.1,356.3 572.3,363.5 574,368.2 575.4,367 577.1,369.4 578.8,373 580.2,369.4 581.9,363.5 583.1,367 584.3,373 585.5,365.8 586.7,351.5 587.9,337.1 589.1,325.2 590.3,318 591.5,322.8 592.7,330 593.9,332.4 595,332.4 596.2,333.6 597.4,334.7 599.4,334.7 601,341.9 602.2,349.1 603.4,361.1 604.6,373 605.8,380.2 607,377.8 608.2,368.2 609.4,356.3 610.6,341.9 611.8,333.6 613,331.2 614.2,334.7 615.4,344.3 616.6,356.3 617.8,361.1 619,361.1 620.2,362.3 621.4,365.8 622.6,368.2 623.8,371.8 625,369.4 626.2,365.8 627.3,361.1 628.5,358.7 629.7,361.1 630.9,362.3 632.1,353.9 633.3,344.3 634.5,333.6" fill="none" stroke="#262626" stroke-width="1.25" stroke-linejoin="round"/><line x1="53.5" y1="4.5" x2="635.0" y2="4.5" stroke="#6a6a6a" stroke-width="1"/><line x1="53.5" y1="4.5" x2="53.5" y2="423.5" stroke="#6a6a6a" stroke-width="1"/><line x1="53.5" y1="214.5" x2="635.0" y2="214.5" stroke="#6a6a6a" stroke-width="1"/><line x1="53.5" y1="423.5" x2="636.5" y2="423.5" stroke="#6a6a6a" stroke-width="1"/><line x1="635.0" y1="4.5" x2="635.0" y2="214.5" stroke="#6a6a6a" stroke-width="1"/><path d="M52.1,4.5H53.5 M51.3,12.5H53.5 M52.1,19.5H53.5 M52.1,27.5H53.5 M52.1,35.5H53.5 M52.1,42.5H53.5 M51.3,50.5H53.5 M52.1,57.5H53.5 M52.1,65.5H53.5 M52.1,73.5H53.5 M52.1,80.5H53.5 M51.3,88.5H53.5 M52.1,95.5H53.5 M52.1,103.5H53.5 M52.1,111.5H53.5 M52.1,118.5H53.5 M51.3,126.5H53.5 M52.1,133.5H53.5 M52.1,141.5H53.5 M52.1,149.5H53.5 M52.1,156.5H53.5 M51.3,164.5H53.5 M52.1,171.5H53.5 M52.1,179.5H53.5 M52.1,187.5H53.5 M52.1,194.5H53.5 M51.3,202.5H53.5 M52.1,209.5H53.5 M635.0,4.5H638.0 M635.0,15.5H637.0 M635.0,25.5H637.0 M635.0,35.5H637.0 M635.0,46.5H637.0 M635.0,56.5H638.0 M635.0,67.5H637.0 M635.0,77.5H637.0 M635.0,88.5H637.0 M635.0,98.5H637.0 M635.0,109.5H638.0 M635.0,119.5H637.0 M635.0,130.5H637.0 M635.0,140.5H637.0 M635.0,150.5H637.0 M635.0,161.5H638.0 M635.0,171.5H637.0 M635.0,182.5H637.0 M635.0,192.5H637.0 M635.0,203.5H637.0 M635.0,213.5H638.0 M51.3,217.5H53.5 M52.1,225.5H53.5 M52.1,233.5H53.5 M52.1,242.5H53.5 M52.1,250.5H53.5 M51.3,258.5H53.5 M52.1,266.5H53.5 M52.1,275.5H53.5 M52.1,283.5H53.5 M52.1,291.5H53.5 M51.3,299.5H53.5 M52.1,307.5H53.5 M52.1,316.5H53.5 M52.1,324.5H53.5 M52.1,332.5H53.5 M51.3,340.5H53.5 M52.1,348.5H53.5 M52.1,357.5H53.5 M52.1,365.5H53.5 M52.1,373.5H53.5 M51.3,381.5H53.5 M52.1,390.5H53.5 M52.1,398.5H53.5 M52.1,406.5H53.5 M52.1,414.5H53.5 M51.3,422.5H53.5 M55.5,423.5V425.9 M57.5,423.5V425.9 M59.5,423.5V425.9 M61.5,423.5V425.9 M63.5,423.5V425.9 M65.5,423.5V425.9 M67.5,423.5V425.9 M69.5,423.5V425.9 M70.5,423.5V425.9 M72.5,423.5V425.9 M74.5,423.5V425.9 M76.5,423.5V425.9 M78.5,423.5V425.9 M80.5,423.5V425.9 M82.5,423.5V425.9 M84.5,423.5V425.9 M86.5,423.5V425.9 M88.5,423.5V425.9 M89.5,423.5V425.9 M91.5,423.5V425.9 M93.5,423.5V425.9 M95.5,423.5V425.9 M97.5,423.5V425.9 M99.5,423.5V425.9 M101.5,423.5V425.9 M103.5,423.5V425.9 M105.5,423.5V425.9 M106.5,423.5V425.9 M108.5,423.5V425.9 M110.5,423.5V425.9 M112.5,423.5V425.9 M114.5,423.5V425.9 M116.5,423.5V425.9 M118.5,423.5V425.9 M120.5,423.5V425.9 M122.5,423.5V425.9 M123.5,423.5V425.9 M125.5,423.5V425.9 M127.5,423.5V425.9 M129.5,423.5V425.9 M131.5,423.5V425.9 M133.5,423.5V425.9 M135.5,423.5V425.9 M137.5,423.5V425.9 M139.5,423.5V425.9 M140.5,423.5V425.9 M142.5,423.5V425.9 M144.5,423.5V425.9 M146.5,423.5V425.9 M148.5,423.5V425.9 M150.5,423.5V425.9 M152.5,423.5V425.9 M154.5,423.5V425.9 M156.5,423.5V425.9 M157.5,423.5V425.9 M159.5,423.5V425.9 M161.5,423.5V425.9 M163.5,423.5V425.9 M165.5,423.5V425.9 M167.5,423.5V425.9 M169.5,423.5V425.9 M171.5,423.5V425.9 M173.5,423.5V425.9 M174.5,423.5V425.9 M176.5,423.5V425.9 M178.5,423.5V425.9 M180.5,423.5V425.9 M182.5,423.5V425.9 M184.5,423.5V425.9 M186.5,423.5V425.9 M188.5,423.5V425.9 M190.5,423.5V425.9 M191.5,423.5V425.9 M193.5,423.5V425.9 M195.5,423.5V425.9 M197.5,423.5V425.9 M199.5,423.5V425.9 M201.5,423.5V425.9 M203.5,423.5V425.9 M205.5,423.5V425.9 M207.5,423.5V425.9 M208.5,423.5V425.9 M210.5,423.5V425.9 M212.5,423.5V425.9 M214.5,423.5V425.9 M216.5,423.5V425.9 M218.5,423.5V425.9 M220.5,423.5V425.9 M222.5,423.5V425.9 M224.5,423.5V425.9 M225.5,423.5V425.9 M227.5,423.5V425.9 M229.5,423.5V425.9 M231.5,423.5V425.9 M233.5,423.5V425.9 M235.5,423.5V425.9 M237.5,423.5V425.9 M239.5,423.5V425.9 M241.5,423.5V425.9 M242.5,423.5V425.9 M244.5,423.5V425.9 M246.5,423.5V425.9 M248.5,423.5V425.9 M250.5,423.5V425.9 M252.5,423.5V425.9 M254.5,423.5V425.9 M256.5,423.5V425.9 M258.5,423.5V425.9 M260.5,423.5V425.9 M261.5,423.5V425.9 M263.5,423.5V425.9 M265.5,423.5V425.9 M267.5,423.5V425.9 M269.5,423.5V425.9 M271.5,423.5V425.9 M273.5,423.5V425.9 M275.5,423.5V425.9 M277.5,423.5V425.9 M278.5,423.5V425.9 M280.5,423.5V425.9 M282.5,423.5V425.9 M284.5,423.5V425.9 M286.5,423.5V425.9 M288.5,423.5V425.9 M290.5,423.5V425.9 M292.5,423.5V425.9 M294.5,423.5V425.9 M295.5,423.5V425.9 M297.5,423.5V425.9 M299.5,423.5V425.9 M301.5,423.5V425.9 M303.5,423.5V425.9 M305.5,423.5V425.9 M307.5,423.5V425.9 M309.5,423.5V425.9 M311.5,423.5V425.9 M312.5,423.5V425.9 M314.5,423.5V425.9 M316.5,423.5V425.9 M318.5,423.5V425.9 M320.5,423.5V425.9 M322.5,423.5V425.9 M324.5,423.5V425.9 M326.5,423.5V425.9 M328.5,423.5V425.9 M329.5,423.5V425.9 M331.5,423.5V425.9 M333.5,423.5V425.9 M335.5,423.5V425.9 M337.5,423.5V425.9 M339.5,423.5V425.9 M341.5,423.5V425.9 M343.5,423.5V425.9 M345.5,423.5V425.9 M346.5,423.5V425.9 M348.5,423.5V425.9 M350.5,423.5V425.9 M352.5,423.5V425.9 M354.5,423.5V425.9 M356.5,423.5V425.9 M358.5,423.5V425.9 M360.5,423.5V425.9 M362.5,423.5V425.9 M363.5,423.5V425.9 M365.5,423.5V425.9 M367.5,423.5V425.9 M369.5,423.5V425.9 M371.5,423.5V425.9 M373.5,423.5V425.9 M375.5,423.5V425.9 M377.5,423.5V425.9 M379.5,423.5V425.9 M380.5,423.5V425.9 M382.5,423.5V425.9 M384.5,423.5V425.9 M386.5,423.5V425.9 M388.5,423.5V425.9 M390.5,423.5V425.9 M392.5,423.5V425.9 M394.5,423.5V425.9 M396.5,423.5V425.9 M397.5,423.5V425.9 M399.5,423.5V425.9 M401.5,423.5V425.9 M403.5,423.5V425.9 M405.5,423.5V425.9 M407.5,423.5V425.9 M409.5,423.5V425.9 M411.5,423.5V425.9 M413.5,423.5V425.9 M414.5,423.5V425.9 M416.5,423.5V425.9 M418.5,423.5V425.9 M420.5,423.5V425.9 M422.5,423.5V425.9 M424.5,423.5V425.9 M426.5,423.5V425.9 M428.5,423.5V425.9 M430.5,423.5V425.9 M431.5,423.5V425.9 M433.5,423.5V425.9 M435.5,423.5V425.9 M437.5,423.5V425.9 M439.5,423.5V425.9 M441.5,423.5V425.9 M443.5,423.5V425.9 M445.5,423.5V425.9 M447.5,423.5V425.9 M448.5,423.5V425.9 M450.5,423.5V425.9 M452.5,423.5V425.9 M454.5,423.5V425.9 M456.5,423.5V425.9 M458.5,423.5V425.9 M460.5,423.5V425.9 M462.5,423.5V425.9 M464.5,423.5V425.9 M466.5,423.5V425.9 M467.5,423.5V425.9 M469.5,423.5V425.9 M471.5,423.5V425.9 M473.5,423.5V425.9 M475.5,423.5V425.9 M477.5,423.5V425.9 M479.5,423.5V425.9 M481.5,423.5V425.9 M483.5,423.5V425.9 M484.5,423.5V425.9 M486.5,423.5V425.9 M488.5,423.5V425.9 M490.5,423.5V425.9 M492.5,423.5V425.9 M494.5,423.5V425.9 M496.5,423.5V425.9 M498.5,423.5V425.9 M500.5,423.5V425.9 M501.5,423.5V425.9 M503.5,423.5V425.9 M505.5,423.5V425.9 M507.5,423.5V425.9 M509.5,423.5V425.9 M511.5,423.5V425.9 M513.5,423.5V425.9 M515.5,423.5V425.9 M517.5,423.5V425.9 M518.5,423.5V425.9 M520.5,423.5V425.9 M522.5,423.5V425.9 M524.5,423.5V425.9 M526.5,423.5V425.9 M528.5,423.5V425.9 M530.5,423.5V425.9 M532.5,423.5V425.9 M534.5,423.5V425.9 M535.5,423.5V425.9 M537.5,423.5V425.9 M539.5,423.5V425.9 M541.5,423.5V425.9 M543.5,423.5V425.9 M545.5,423.5V425.9 M547.5,423.5V425.9 M549.5,423.5V425.9 M551.5,423.5V425.9 M552.5,423.5V425.9 M554.5,423.5V425.9 M556.5,423.5V425.9 M558.5,423.5V425.9 M560.5,423.5V425.9 M562.5,423.5V425.9 M564.5,423.5V425.9 M566.5,423.5V425.9 M568.5,423.5V425.9 M569.5,423.5V425.9 M571.5,423.5V425.9 M573.5,423.5V425.9 M575.5,423.5V425.9 M577.5,423.5V425.9 M579.5,423.5V425.9 M581.5,423.5V425.9 M583.5,423.5V425.9 M585.5,423.5V425.9 M586.5,423.5V425.9 M588.5,423.5V425.9 M590.5,423.5V425.9 M592.5,423.5V425.9 M594.5,423.5V425.9 M596.5,423.5V425.9 M598.5,423.5V425.9 M600.5,423.5V425.9 M602.5,423.5V425.9 M603.5,423.5V425.9 M605.5,423.5V425.9 M607.5,423.5V425.9 M609.5,423.5V425.9 M611.5,423.5V425.9 M613.5,423.5V425.9 M615.5,423.5V425.9 M617.5,423.5V425.9 M619.5,423.5V425.9 M620.5,423.5V425.9 M622.5,423.5V425.9 M624.5,423.5V425.9 M626.5,423.5V425.9 M628.5,423.5V425.9 M630.5,423.5V425.9 M632.5,423.5V425.9 M634.5,423.5V425.9 M636.5,423.5V425.9" stroke="#6a6a6a" stroke-width="1" fill="none"/><path d="M88.5,423.5V428.3 M205.5,423.5V428.3 M260.5,423.5V428.3 M318.5,423.5V428.3 M375.5,423.5V428.3 M433.7,423.5V428.3 M490.5,423.5V428.3 M549.5,423.5V428.3 M607.5,423.5V428.3" stroke="#6a6a6a" stroke-width="1" fill="none"/><line x1="146.5" y1="423.5" x2="146.5" y2="445.5" stroke="#6a6a6a" stroke-width="1"/><rect x="63.5" y="416.6" width="27.0" height="6.9" fill="#fff" stroke="#6a6a6a" stroke-width="1"/><rect x="273.5" y="416.6" width="27.0" height="6.9" fill="#fff" stroke="#6a6a6a" stroke-width="1"/><rect x="447.3" y="416.6" width="27.3" height="6.9" fill="#fff" stroke="#6a6a6a" stroke-width="1"/><rect x="612.2" y="416.6" width="24.1" height="6.9" fill="#fff" stroke="#6a6a6a" stroke-width="1"/><text x="45.1" y="16.1" font-size="11.6" text-anchor="end" font-weight="normal" fill="#0a0a0a" stroke="#0a0a0a" stroke-width="0.2" font-family="Liberation Sans, sans-serif" >30</text><text x="45.1" y="54.1" font-size="11.6" text-anchor="end" font-weight="normal" fill="#0a0a0a" stroke="#0a0a0a" stroke-width="0.2" font-family="Liberation Sans, sans-serif" >20</text><text x="45.1" y="92.0" font-size="11.6" text-anchor="end" font-weight="normal" fill="#0a0a0a" stroke="#0a0a0a" stroke-width="0.2" font-family="Liberation Sans, sans-serif" >10</text><text x="45.1" y="130.0" font-size="11.6" text-anchor="end" font-weight="normal" fill="#0a0a0a" stroke="#0a0a0a" stroke-width="0.2" font-family="Liberation Sans, sans-serif" >0</text><text x="45.1" y="167.9" font-size="11.6" text-anchor="end" font-weight="normal" fill="#0a0a0a" stroke="#0a0a0a" stroke-width="0.2" font-family="Liberation Sans, sans-serif" >-10</text><text x="45.1" y="205.9" font-size="11.6" text-anchor="end" font-weight="normal" fill="#0a0a0a" stroke="#0a0a0a" stroke-width="0.2" font-family="Liberation Sans, sans-serif" >-20</text><text x="45.1" y="221.2" font-size="11.6" text-anchor="end" font-weight="normal" fill="#0a0a0a" stroke="#0a0a0a" stroke-width="0.2" font-family="Liberation Sans, sans-serif" >100</text><text x="45.1" y="262.3" font-size="11.6" text-anchor="end" font-weight="normal" fill="#0a0a0a" stroke="#0a0a0a" stroke-width="0.2" font-family="Liberation Sans, sans-serif" >80</text><text x="45.1" y="303.4" font-size="11.6" text-anchor="end" font-weight="normal" fill="#0a0a0a" stroke="#0a0a0a" stroke-width="0.2" font-family="Liberation Sans, sans-serif" >60</text><text x="45.1" y="344.4" font-size="11.6" text-anchor="end" font-weight="normal" fill="#0a0a0a" stroke="#0a0a0a" stroke-width="0.2" font-family="Liberation Sans, sans-serif" >40</text><text x="45.1" y="385.5" font-size="11.6" text-anchor="end" font-weight="normal" fill="#0a0a0a" stroke="#0a0a0a" stroke-width="0.2" font-family="Liberation Sans, sans-serif" >20</text><text x="643.6" y="7.9" font-size="11.6" text-anchor="start" font-weight="normal" fill="#0a0a0a" stroke="#0a0a0a" stroke-width="0.2" font-family="Liberation Sans, sans-serif" >40</text><text x="643.6" y="60.8" font-size="11.6" text-anchor="start" font-weight="normal" fill="#0a0a0a" stroke="#0a0a0a" stroke-width="0.2" font-family="Liberation Sans, sans-serif" >30</text><text x="643.6" y="113.0" font-size="11.6" text-anchor="start" font-weight="normal" fill="#0a0a0a" stroke="#0a0a0a" stroke-width="0.2" font-family="Liberation Sans, sans-serif" >20</text><text x="643.6" y="165.3" font-size="11.6" text-anchor="start" font-weight="normal" fill="#0a0a0a" stroke="#0a0a0a" stroke-width="0.2" font-family="Liberation Sans, sans-serif" >10</text><text x="643.6" y="217.6" font-size="11.6" text-anchor="start" font-weight="normal" fill="#0a0a0a" stroke="#0a0a0a" stroke-width="0.2" font-family="Liberation Sans, sans-serif" >0</text><text x="59.5" y="19.4" font-size="14" text-anchor="start" font-weight="bold" fill="#0a0a0a" stroke="#0a0a0a" stroke-width="0.3" font-family="Liberation Sans, sans-serif" >a</text><text x="59.5" y="231.6" font-size="14" text-anchor="start" font-weight="bold" fill="#0a0a0a" stroke="#0a0a0a" stroke-width="0.3" font-family="Liberation Sans, sans-serif" >b</text><text x="486.5" y="25.8" font-size="13" text-anchor="start" font-weight="normal" fill="#0a0a0a" stroke="#0a0a0a" stroke-width="0.2" font-family="Liberation Sans, sans-serif" >Max</text><text x="474.3" y="99.7" font-size="13" text-anchor="start" font-weight="normal" fill="#0a0a0a" stroke="#0a0a0a" stroke-width="0.2" font-family="Liberation Sans, sans-serif" >Mean</text><text x="500.2" y="200" font-size="13" text-anchor="start" font-weight="normal" fill="#0a0a0a" stroke="#0a0a0a" stroke-width="0.2" font-family="Liberation Sans, sans-serif" >Min</text><text x="533.6" y="261" font-size="13" text-anchor="start" font-weight="normal" fill="#0a0a0a" stroke="#0a0a0a" stroke-width="0.2" font-family="Liberation Sans, sans-serif" >Max</text><text x="530.2" y="327" font-size="13" text-anchor="start" font-weight="normal" fill="#0a0a0a" stroke="#0a0a0a" stroke-width="0.2" font-family="Liberation Sans, sans-serif" >Mean</text><text x="487" y="413.7" font-size="13" text-anchor="start" font-weight="normal" fill="#0a0a0a" stroke="#0a0a0a" stroke-width="0.2" font-family="Liberation Sans, sans-serif" >Min</text><text x="70" y="438.5" font-size="13" text-anchor="middle" font-weight="normal" fill="#0a0a0a" stroke="#0a0a0a" stroke-width="0.2" font-family="Liberation Sans, sans-serif" >Nov</text><text x="117.1" y="438.5" font-size="13" text-anchor="middle" font-weight="normal" fill="#0a0a0a" stroke="#0a0a0a" stroke-width="0.2" font-family="Liberation Sans, sans-serif" >Dec</text><text x="176" y="438.5" font-size="13" text-anchor="middle" font-weight="normal" fill="#0a0a0a" stroke="#0a0a0a" stroke-width="0.2" font-family="Liberation Sans, sans-serif" >Jan</text><text x="232" y="438.5" font-size="13" text-anchor="middle" font-weight="normal" fill="#0a0a0a" stroke="#0a0a0a" stroke-width="0.2" font-family="Liberation Sans, sans-serif" >Feb</text><text x="289.4" y="438.5" font-size="13" text-anchor="middle" font-weight="normal" fill="#0a0a0a" stroke="#0a0a0a" stroke-width="0.2" font-family="Liberation Sans, sans-serif" >March</text><text x="347.9" y="438.5" font-size="13" text-anchor="middle" font-weight="normal" fill="#0a0a0a" stroke="#0a0a0a" stroke-width="0.2" font-family="Liberation Sans, sans-serif" >April</text><text x="404.6" y="438.5" font-size="13" text-anchor="middle" font-weight="normal" fill="#0a0a0a" stroke="#0a0a0a" stroke-width="0.2" font-family="Liberation Sans, sans-serif" >May</text><text x="462.8" y="438.5" font-size="13" text-anchor="middle" font-weight="normal" fill="#0a0a0a" stroke="#0a0a0a" stroke-width="0.2" font-family="Liberation Sans, sans-serif" >June</text><text x="519.8" y="438.5" font-size="13" text-anchor="middle" font-weight="normal" fill="#0a0a0a" stroke="#0a0a0a" stroke-width="0.2" font-family="Liberation Sans, sans-serif" >July</text><text x="580.9" y="438.5" font-size="13" text-anchor="middle" font-weight="normal" fill="#0a0a0a" stroke="#0a0a0a" stroke-width="0.2" font-family="Liberation Sans, sans-serif" >Aug</text><text x="625.9" y="438.5" font-size="13" text-anchor="middle" font-weight="normal" fill="#0a0a0a" stroke="#0a0a0a" stroke-width="0.2" font-family="Liberation Sans, sans-serif" >Sep</text><text x="89.7" y="459.1" font-size="13" text-anchor="middle" font-weight="normal" fill="#0a0a0a" stroke="#0a0a0a" stroke-width="0.2" font-family="Liberation Sans, sans-serif" >2015</text><text x="398.6" y="459.1" font-size="13" text-anchor="middle" font-weight="normal" fill="#0a0a0a" stroke="#0a0a0a" stroke-width="0.2" font-family="Liberation Sans, sans-serif" >2016</text><text x="0" y="0" font-size="13.2" text-anchor="middle" font-weight="normal" fill="#0a0a0a" stroke="#0a0a0a" stroke-width="0.2" font-family="Liberation Sans, sans-serif" transform="translate(13,106.5) rotate(-90)">Ambient temperature (°C)</text><text x="0" y="0" font-size="13.2" text-anchor="middle" font-weight="normal" fill="#0a0a0a" stroke="#0a0a0a" stroke-width="0.2" font-family="Liberation Sans, sans-serif" transform="translate(9.4,316.5) rotate(-90)">Relative humidity (%)</text><text x="0" y="0" font-size="13.2" text-anchor="middle" font-weight="normal" fill="#0a0a0a" stroke="#0a0a0a" stroke-width="0.2" font-family="Liberation Sans, sans-serif" transform="translate(665.6,112) rotate(90)">Precipitation (mm)</text></svg>
</body></html>
